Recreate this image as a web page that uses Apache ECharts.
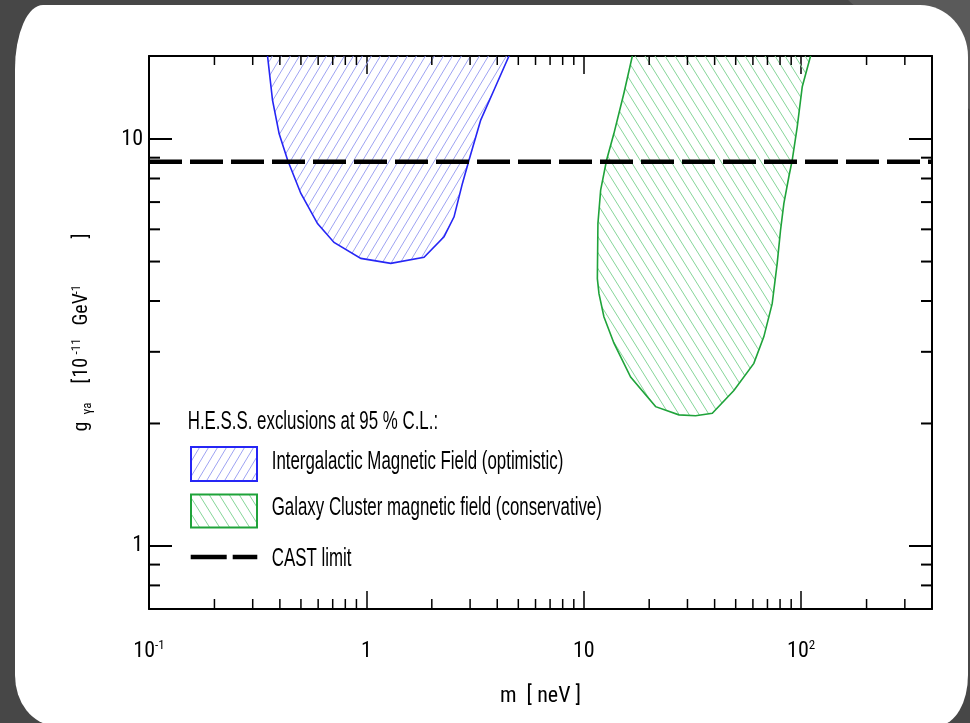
<!DOCTYPE html>
<html><head><meta charset="utf-8">
<script src="https://cdn.jsdelivr.net/npm/echarts@6/dist/echarts.min.js"></script>
<style>
html,body{margin:0;padding:0;background:#474747;width:970px;height:723px;overflow:hidden;}
#shade{position:absolute;left:0;top:0;width:970px;height:723px;background:#5a5a5a;clip-path:polygon(848px 0,970px 0,970px 110px);}
#card{position:absolute;left:15px;top:5px;width:953px;height:720px;background:#fff;border-radius:28px 48px 29px 39px / 64px 52px 50px 50px;}
#chart{position:absolute;left:0;top:0;width:970px;height:723px;}
</style></head>
<body>
<div id="shade"></div>
<div id="card"></div>
<div id="chart"></div>
<script>
// ---- data ----
const igmfX = [0.346, 0.351, 0.370, 0.397, 0.434, 0.499, 0.596, 0.710, 0.943, 1.295, 1.842, 2.276, 2.531, 2.766, 2.967, 3.357, 3.865, 4.53, 4.77];
const igmfY = [17, 16.0, 12.47, 10.3, 8.88, 7.36, 6.20, 5.57, 5.09, 4.95, 5.12, 5.75, 6.44, 7.78, 8.88, 11.13, 13.20, 16.0, 17];
const gcX = [17.18, 16.73, 15.30, 13.77, 12.74, 11.96, 11.62, 11.55, 11.75, 12.38, 13.77, 16.43, 21.41, 27.40, 32.69, 39.02, 49.05, 60.6, 67.4, 73.6, 77.6, 80.4, 83.3, 87.8, 91.0, 95.96, 101.2, 110.5, 114];
const gcY = [17, 16.0, 12.96, 10.33, 8.88, 7.49, 6.20, 4.54, 4.17, 3.66, 3.15, 2.60, 2.20, 2.10, 2.09, 2.12, 2.41, 2.81, 3.27, 3.94, 4.95, 5.97, 6.95, 8.08, 8.88, 10.72, 13.45, 16.0, 17];
const castX = [0.1, 400];
const castY = [8.8, 8.8];
const xMajor = [0.1, 1, 10, 100];
const xMajorLabels = ['10{sup|-1}', '1', '10', '10{sup|2}'];
const yMajor = [1, 10];
const yMajorLabels = ['1', '10'];
const xMinor = [0.2,0.3,0.4,0.5,0.6,0.7,0.8,0.9, 2,3,4,5,6,7,8,9, 20,30,40,50,60,70,80,90, 200,300];
const yMinor = [0.8,0.9, 2,3,4,5,6,7,8,9];
const legendTitle = 'H.E.S.S. exclusions at 95 % C.L.:';
const legendNames = ['Intergalactic Magnetic Field (optimistic)', 'Galaxy Cluster magnetic field (conservative)', 'CAST limit'];

// ---- styles ----
const SANS = '"Liberation Sans", Arial, Helvetica, sans-serif';
const NARROW = '"Roboto Condensed", "DejaVu Sans Condensed", ' + SANS;
const labSize = 22, nameSize = 20;
const blueLine = '#2626f5', blueHatch = '#9ea3f2';
const greenLine = '#1fa33a', greenHatch = '#86d699';

function hatch(color, wd, h, dir) {
  const c = document.createElement('canvas');
  c.width = wd; c.height = h;
  const g = c.getContext('2d');
  g.strokeStyle = color; g.lineWidth = 1;
  for (const k of [-1, 0, 1]) {
    g.beginPath();
    if (dir === '/') { g.moveTo(k * wd, h); g.lineTo(k * wd + wd, 0); }
    else { g.moveTo(k * wd, 0); g.lineTo(k * wd + wd, h); }
    g.stroke();
  }
  return { image: c, repeat: 'repeat' };
}
const bluePat = hatch(blueHatch, 9, 15, '/');
const greenPat = hatch(greenHatch, 10, 16, '\\');

function fmt(majors, labels) {
  return function (v) {
    const i = majors.findIndex(m => Math.abs(Math.log10(v / m)) < 1e-6);
    return i >= 0 ? labels[i] : '';
  };
}

function regionSeries(xs, ys, fill, stroke) {
  return {
    type: 'custom', coordinateSystem: 'cartesian2d', clip: true, silent: true, z: 2,
    data: xs.map((x, i) => [x, ys[i]]),
    renderItem: function (params, api) {
      if (params.dataIndex !== 0) return null;
      const pts = xs.map((x, i) => api.coord([x, ys[i]]));
      return { type: 'polygon', shape: { points: pts }, style: { fill: fill, stroke: stroke, lineWidth: 1.6 } };
    }
  };
}

const axisLineStyle = { show: true, onZero: false, lineStyle: { color: '#000', width: 2 } };
const nm = (extra) => Object.assign({ fontFamily: NARROW, fontSize: nameSize, color: '#000', lineHeight: 24, align: 'left' }, extra);

const chart = echarts.init(document.getElementById('chart'), null, { renderer: 'canvas' });
chart.setOption({
  animation: false,
  backgroundColor: 'transparent',
  grid: { left: 149, right: 38, top: 56, bottom: 114 },
  xAxis: [{
    type: 'log', logBase: 10, min: 0.1, max: 400, position: 'bottom',
    axisLine: axisLineStyle,
    axisTick: { show: true, inside: true, length: 18, lineStyle: { color: '#000', width: 1.5 } },
    splitLine: { show: false },
    axisLabel: { margin: 30, color: '#000', fontFamily: NARROW, fontSize: labSize, lineHeight: 24, formatter: fmt(xMajor, xMajorLabels),
      rich: { sup: { fontFamily: NARROW, fontSize: 13, lineHeight: 14, verticalAlign: 'top', color: '#000' } } },
    name: 'm  [ neV ]', nameLocation: 'middle', nameGap: 76,
    nameTextStyle: { color: '#000', fontFamily: NARROW, fontSize: labSize }
  }, {
    type: 'log', logBase: 10, min: 0.1, max: 400, position: 'top',
    axisLine: axisLineStyle,
    axisTick: { show: true, inside: true, length: 18, lineStyle: { color: '#000', width: 1.5 } },
    splitLine: { show: false }, axisLabel: { show: false }
  }],
  yAxis: [{
    type: 'log', logBase: 10, min: 0.7, max: 16, position: 'left',
    axisLine: axisLineStyle,
    axisTick: { show: true, inside: true, length: 23, lineStyle: { color: '#000', width: 2 } },
    splitLine: { show: false },
    axisLabel: { margin: 6, color: '#000', fontFamily: NARROW, fontSize: labSize, formatter: fmt(yMajor, yMajorLabels) },
    name: '{g|g}{s|γa}{b|[}{n|10}{p|-11}{u|GeV}{q|-1}{e|]}',
    nameLocation: 'middle', nameGap: 55,
    nameTextStyle: { color: '#000', fontFamily: NARROW, fontSize: nameSize,
      rich: {
        g: nm({ width: 17 }),
        s: nm({ fontSize: 13, lineHeight: 14, verticalAlign: 'bottom', width: 31 }),
        b: nm({ width: 6 }),
        n: nm({ width: 23 }),
        p: nm({ fontSize: 13, lineHeight: 14, verticalAlign: 'top', width: 29 }),
        u: nm({ width: 31 }),
        q: nm({ fontSize: 13, lineHeight: 14, verticalAlign: 'top', width: 56 }),
        e: nm({ width: 5 })
      } }
  }, {
    type: 'log', logBase: 10, min: 0.7, max: 16, position: 'right',
    axisLine: axisLineStyle,
    axisTick: { show: true, inside: true, length: 23, lineStyle: { color: '#000', width: 2 } },
    splitLine: { show: false }, axisLabel: { show: false }
  }],
  series: [
    regionSeries(igmfX, igmfY, bluePat, blueLine),
    regionSeries(gcX, gcY, greenPat, greenLine),
    {
      type: 'line', xAxisIndex: 0, yAxisIndex: 0, symbol: 'none', silent: true, z: 5,
      data: castX.map((x, i) => [x, castY[i]]),
      lineStyle: { color: '#000', width: 4.5, type: [33, 8], cap: 'butt' }
    },
    {
      type: 'custom', coordinateSystem: 'cartesian2d', silent: true, z: 10, clip: false,
      data: [[1, 1]],
      renderItem: function (params, api) {
        const cs = params.coordSys;
        const L = cs.x, R = cs.x + cs.width, T = cs.y, B = cs.y + cs.height;
        const kids = [];
        const st = { stroke: '#000', lineWidth: 1.5 };
        xMinor.forEach(v => {
          const px = api.coord([v, 1])[0];
          kids.push({ type: 'line', shape: { x1: px, y1: B, x2: px, y2: B - 10 }, style: st });
          kids.push({ type: 'line', shape: { x1: px, y1: T, x2: px, y2: T + 9 }, style: st });
        });
        yMinor.forEach(v => {
          const py = api.coord([1, v])[1];
          kids.push({ type: 'line', shape: { x1: L, y1: py, x2: L + 11, y2: py }, style: { stroke: '#000', lineWidth: 2 } });
          kids.push({ type: 'line', shape: { x1: R, y1: py, x2: R - 11, y2: py }, style: { stroke: '#000', lineWidth: 2 } });
        });
        return { type: 'group', children: kids };
      }
    }
  ],
  graphic: [
    { type: 'text', x: 187.7, y: 422, scaleX: 0.675, silent: true,
      style: { text: legendTitle, fontFamily: SANS, fontSize: 25, fill: '#000', textVerticalAlign: 'middle' } },
    { type: 'rect', silent: true, shape: { x: 191, y: 447, width: 66, height: 34 }, style: { fill: bluePat, stroke: blueLine, lineWidth: 2 } },
    { type: 'text', x: 271.7, y: 462, scaleX: 0.675, silent: true,
      style: { text: legendNames[0], fontFamily: SANS, fontSize: 25, fill: '#000', textVerticalAlign: 'middle' } },
    { type: 'rect', silent: true, shape: { x: 191, y: 494.5, width: 66, height: 33 }, style: { fill: greenPat, stroke: greenLine, lineWidth: 2 } },
    { type: 'text', x: 271.7, y: 508.5, scaleX: 0.675, silent: true,
      style: { text: legendNames[1], fontFamily: SANS, fontSize: 25, fill: '#000', textVerticalAlign: 'middle' } },
    { type: 'line', silent: true, shape: { x1: 190.7, y1: 557, x2: 257.3, y2: 557 }, style: { stroke: '#000', lineWidth: 4.5, lineDash: [36, 6] } },
    { type: 'text', x: 271.7, y: 559, scaleX: 0.675, silent: true,
      style: { text: legendNames[2], fontFamily: SANS, fontSize: 25, fill: '#000', textVerticalAlign: 'middle' } }
  ]
});
</script>
</body></html>
